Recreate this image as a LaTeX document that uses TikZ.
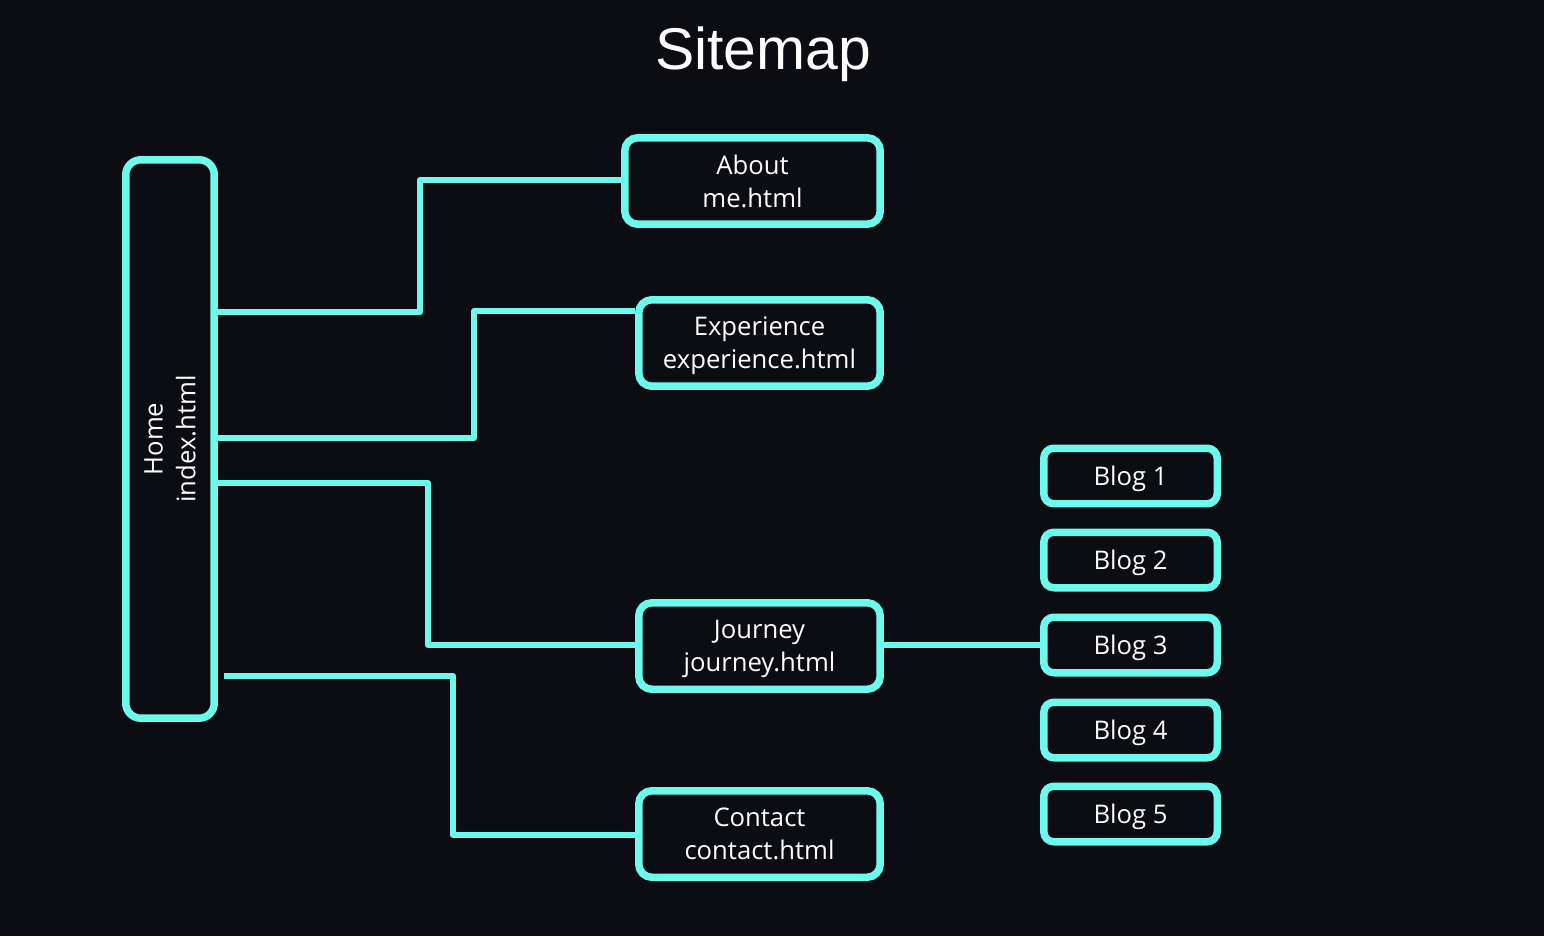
\documentclass[tikz,border=0pt]{standalone}
\usepackage{fontspec}
\setmainfont{Open Sans}
\newfontfamily\titrefont{Liberation Sans}
\usetikzlibrary{calc}
\definecolor{fond}{HTML}{0B0D12}
\definecolor{turquoise}{HTML}{6CFAEC}

\begin{document}
\begin{tikzpicture}[x=0.02cm, y=-0.02cm, line width=0.12cm, line join=round, turquoise,
  texte/.style={text=white, align=center, font=\fontsize{14.6}{18.7}\selectfont},
  boite/.style={texte, draw=turquoise, line width=0.15cm, rounded corners=0.26cm, inner sep=0pt, minimum height=1.73cm, text depth=-0.06cm},
  page/.style={boite, minimum width=4.83cm},
  blog/.style={boite, minimum width=3.47cm, minimum height=1.11cm, rounded corners=0.2cm}]
\fill [fond] (0,0) rectangle (1544,936); % fond et bounding box

\node [text=white, font=\titrefont\fontsize{33.5}{40}\selectfont] (titre) at (763,54) {Sitemap};

\node [boite, minimum width=1.77cm, minimum height=11.17cm, rounded corners=0.3cm] (home) at (170,439) {};
\node [texte, rotate=90] (homelabel) at (home) {Home\\index.html};

\node [boite, minimum width=5.11cm] (about) at (752.5,181) {About\\me.html};
\node [page] (experience) at (759.5,343) {Experience\\experience.html};
\node [page] (journey) at (759.5,646) {Journey\\journey.html};
\node [page] (contact) at (759.5,834) {Contact\\contact.html};
\foreach \i/\y in {1/476,2/560,3/645,4/730,5/814}
  \node [blog] (blog\i) at (1130.5,\y) {Blog \i};

\draw (home.east |- 0,312) -- (420,312) |- (about.west |- 0,180);
\draw (home.east |- 0,438) -- (474,438) |- (experience.west |- 0,311);
\draw (home.east |- 0,483) -- (428,483) |- (journey.west |- 0,645);
\draw ($(home.east |- 0,676)+(6,0)$) -- (453,676) |- (contact.west |- 0,835);
\draw (journey.east |- 0,645) -- (blog3.west);
\end{tikzpicture}
\end{document}
